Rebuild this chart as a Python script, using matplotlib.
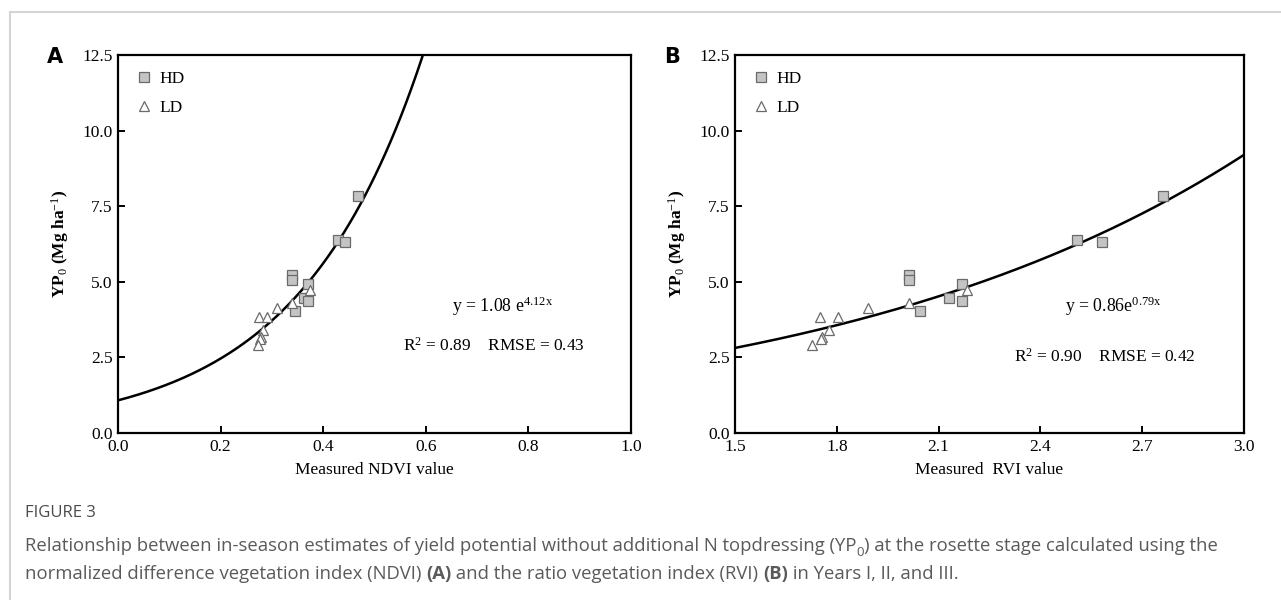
import numpy as np
import matplotlib
matplotlib.use('Agg')
import matplotlib.pyplot as plt
from matplotlib.lines import Line2D

plt.rcParams['font.family'] = 'Liberation Serif'
plt.rcParams['mathtext.fontset'] = 'custom'
plt.rcParams['mathtext.rm'] = 'Liberation Serif'
plt.rcParams['mathtext.it'] = 'Liberation Serif:italic'

# ---- data ----
# panel A: measured NDVI vs YP0
ndvi_hd = [0.468, 0.428, 0.443, 0.339, 0.339, 0.370, 0.363, 0.371, 0.345]
yp_hd = [7.83, 6.37, 6.32, 5.23, 5.06, 4.94, 4.48, 4.35, 4.05]
ndvi_ld = [0.374, 0.340, 0.309, 0.275, 0.290, 0.283, 0.279, 0.277, 0.272]
yp_ld = [4.73, 4.30, 4.12, 3.83, 3.83, 3.42, 3.17, 3.10, 2.92]

# panel B: measured RVI vs YP0
rvi_hd = [2.760, 2.507, 2.583, 2.012, 2.012, 2.169, 2.132, 2.169, 2.046]
rvi_ld = [2.184, 2.014, 1.891, 1.751, 1.803, 1.777, 1.756, 1.754, 1.727]

# exponential fits y = a * exp(b x)
fit_a = (1.08, 4.12)
fit_b = (0.86, 0.79)

yticks = [0.0, 2.5, 5.0, 7.5, 10.0, 12.5]
xticks_a = [0.0, 0.2, 0.4, 0.6, 0.8, 1.0]
xticks_b = [1.5, 1.8, 2.1, 2.4, 2.7, 3.0]

W, H = 1281, 600
fig = plt.figure(figsize=(W / 100, H / 100), dpi=100)


def px_axes(l, t, r, b):
    return fig.add_axes([l / W, 1 - b / H, (r - l) / W, (b - t) / H])


ax_a = px_axes(118, 55, 631, 433)
ax_b = px_axes(735, 55, 1244, 433)

panels = [
    (ax_a, ndvi_hd, ndvi_ld, fit_a, xticks_a, 'Measured NDVI value', 'A',
     r'y = 1.08 e$^{\mathrm{4.12x}}$', r'R$^2$ = 0.89    RMSE = 0.43',
     (0.750, 0.334), (0.733, 0.230)),
    (ax_b, rvi_hd, rvi_ld, fit_b, xticks_b, 'Measured  RVI value', 'B',
     r'y = 0.86e$^{\mathrm{0.79x}}$', r'R$^2$ = 0.90    RMSE = 0.42',
     (0.744, 0.334), (0.726, 0.202)),
]

for ax, x_hd, x_ld, (a, b), xt, xlab, tag, eq, stats, eq_pos, st_pos in panels:
    xs = np.linspace(xt[0], xt[-1], 400)
    ys = a * np.exp(b * xs)
    ax.plot(xs, ys, color='black', lw=1.8, zorder=2)
    ax.plot(x_hd, yp_hd, ls='none', marker='s', ms=6.6, mfc='#c4c4c4',
            mec='#6a6a6a', mew=0.9, label='HD', zorder=3)
    ax.plot(x_ld, yp_ld, ls='none', marker='^', ms=7.6, mfc='white',
            mec='#6a6a6a', mew=0.9, label='LD', zorder=3)

    ax.set_xlim(xt[0], xt[-1])
    ax.set_ylim(0, 12.5)
    ax.set_xticks(xt)
    ax.set_yticks(yticks)
    ax.set_xticklabels([f'{v:.1f}' for v in xt])
    ax.set_yticklabels([f'{v:.1f}' for v in yticks])
    ax.tick_params(direction='in', length=5, width=1.4, labelsize=12.5, pad=4)
    for sp in ax.spines.values():
        sp.set_linewidth(1.6)

    ax.set_xlabel(xlab, fontsize=12.5, labelpad=5)
    ax.set_ylabel(r'YP$_0$ (Mg ha$^{-1}$)', fontsize=12.5, fontweight='bold',
                  labelpad=8)

    ax.legend(loc='upper left', frameon=False, fontsize=12.5, handletextpad=0.3,
              borderaxespad=0.5, labelspacing=0.75, handlelength=1.2)

    ax.text(*eq_pos, eq, transform=ax.transAxes, ha='center', va='center',
            fontsize=12.8)
    ax.text(*st_pos, stats, transform=ax.transAxes, ha='center', va='center',
            fontsize=12.5)

    ax.text(-0.123, 0.995, tag, transform=ax.transAxes, ha='center',
            va='center', fontsize=15, fontweight='bold', family='DejaVu Sans')

# outer frame (top and left edges of the page box)
fig.add_artist(Line2D([10 / W, 1], [1 - 12 / H, 1 - 12 / H],
                      color='#d4d4d4', lw=1.5, transform=fig.transFigure))
fig.add_artist(Line2D([10 / W, 10 / W], [0, 1 - 12 / H],
                      color='#d4d4d4', lw=1.5, transform=fig.transFigure))

# caption, built from chained pieces so bold / subscript parts line up
cap_kw = dict(family='Open Sans', fontsize=13.3, color='#5a5a5a', va='bottom')
fig.text(25 / W, 1 - 521 / H, 'FIGURE 3', family='Open Sans', fontsize=12,
         color='#4a4a4a', va='bottom')

t1 = fig.text(25 / W, 1 - 555 / H,
              'Relationship between in-season estimates of yield potential '
              'without additional N topdressing (YP', **cap_kw)
s0 = ax_b.annotate('0', xy=(1, 0), xycoords=t1, xytext=(0, -3),
                   textcoords='offset points', annotation_clip=False,
                   **{**cap_kw, 'fontsize': 9.5})
ax_b.annotate(') at the rosette stage calculated using the',
              xy=(1, 0), xycoords=(s0, t1), annotation_clip=False, **cap_kw)

l2 = fig.text(25 / W, 1 - 583 / H,
              'normalized difference vegetation index (NDVI) ', **cap_kw)
p1 = ax_b.annotate('(A)', xy=(1, 0), xycoords=l2, annotation_clip=False,
                   **{**cap_kw, 'fontweight': 'bold'})
p2 = ax_b.annotate(' and the ratio vegetation index (RVI) ', xy=(1, 0),
                   xycoords=p1, annotation_clip=False, **cap_kw)
p3 = ax_b.annotate('(B)', xy=(1, 0), xycoords=p2, annotation_clip=False,
                   **{**cap_kw, 'fontweight': 'bold'})
ax_b.annotate(' in Years I, II, and III.', xy=(1, 0), xycoords=p3,
              annotation_clip=False, **cap_kw)

fig.savefig('out.png', dpi=100)
